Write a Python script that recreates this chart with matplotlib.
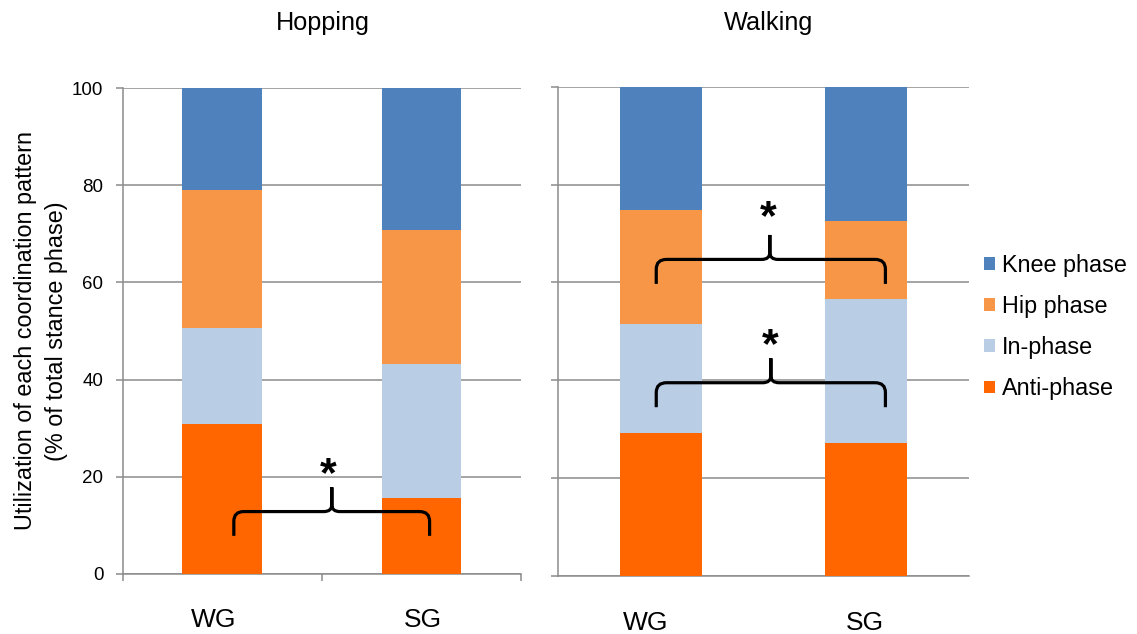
import matplotlib
matplotlib.use("Agg")
import matplotlib.pyplot as plt
from matplotlib.path import Path
from matplotlib.patches import PathPatch
from matplotlib import transforms

plt.rcParams['font.family'] = ['Liberation Sans', 'DejaVu Sans']

# Data (percent of total stance phase)
groups = ["WG", "SG"]
tasks = ["Hopping", "Walking"]
patterns = ["Anti-phase", "In-phase", "Hip phase", "Knee phase"]
colors = ["#FF6600", "#B9CDE5", "#F79646", "#4F81BD"]

hop_anti = [30.9, 15.5]
hop_in = [19.8, 27.7]
hop_hip = [28.3, 27.6]
hop_knee = [21.0, 29.2]

walk_anti = [29.2, 27.2]
walk_in = [22.4, 29.4]
walk_hip = [23.3, 15.9]
walk_knee = [25.1, 27.5]

# significance braces: (x_left, x_right, x_tip, y_line, star_x, star_y)
hop_braces = [(0.058, 1.041, 0.55, 12.8, 0.53, 20.3)]
walk_braces = [(-0.023, 1.093, 0.53, 64.7, 0.523, 73.2),
               (-0.023, 1.093, 0.535, 39.5, 0.532, 47.0)]

W, H = 1137, 634
GRID = "#8C8C8C"


def draw_brace(ax, xa, xb, xm, y, d=5.0, h=5.0, rx=0.05, ry=2.0):
    verts = [(xa, y - d), (xa, y - ry), (xa, y), (xa + rx, y),
             (xm - rx * 0.8, y), (xm, y), (xm, y + ry * 0.7), (xm, y + h),
             (xm, y + ry * 0.7), (xm, y), (xm + rx * 0.8, y),
             (xb - rx, y), (xb, y), (xb, y - ry), (xb, y - d)]
    codes = [Path.MOVETO, Path.LINETO, Path.CURVE3, Path.CURVE3,
             Path.LINETO, Path.CURVE3, Path.CURVE3, Path.LINETO,
             Path.LINETO, Path.CURVE3, Path.CURVE3,
             Path.LINETO, Path.CURVE3, Path.CURVE3, Path.LINETO]
    ax.add_patch(PathPatch(Path(verts, codes), fill=False, lw=2.3,
                           edgecolor="black", capstyle="butt", joinstyle="miter",
                           zorder=5, clip_on=False))


def stacked(ax, series, braces, yticklabels=True):
    x = range(len(groups))
    bottom = [0.0] * len(groups)
    bars = []
    for vals, c, name in zip(series, colors, patterns):
        b = ax.bar(x, vals, 0.4, bottom=bottom, color=c, label=name, zorder=3)
        bars.append(b)
        bottom = [bo + v for bo, v in zip(bottom, vals)]
    ax.set_xlim(-0.5, 1.5)
    ax.set_ylim(0, 100)
    ax.set_yticks(range(0, 101, 20))
    ax.yaxis.grid(True, color=GRID, lw=1.1, zorder=0)
    ax.set_axisbelow(True)
    for s in ["top", "right"]:
        ax.spines[s].set_visible(False)
    for s in ["left", "bottom"]:
        ax.spines[s].set_color(GRID)
        ax.spines[s].set_linewidth(1.1)
    ax.tick_params(axis="y", direction="out", length=5, width=1.1, color=GRID,
                   pad=9, labelsize=13.5, labelleft=yticklabels)
    ax.set_xticks(list(x))
    ax.set_xticklabels(groups)
    ax.tick_params(axis="x", which="major", length=0, pad=25, labelsize=19)
    for xa, xb, xm, y, sx, sy in braces:
        draw_brace(ax, xa, xb, xm, y)
        ax.text(sx, sy, "*", ha="center", va="center", fontsize=31,
                fontweight="bold", zorder=6)
    return bars


fig = plt.figure(figsize=(W / 100, H / 100), dpi=100)
ax1 = fig.add_axes([122.7 / W, (H - 573.7) / H, 398.3 / W, 485.4 / H])
ax2 = fig.add_axes([558.3 / W, (H - 576) / H, 410.7 / W, 489.3 / H])

bars = stacked(ax1, [hop_anti, hop_in, hop_hip, hop_knee], hop_braces)
stacked(ax2, [walk_anti, walk_in, walk_hip, walk_knee], walk_braces, yticklabels=False)

# category boundary ticks on the hopping panel only
ax1.set_xticks([-0.5, 0.5, 1.5], minor=True)
ax1.tick_params(axis="x", which="minor", direction="out", length=5, width=1.1, color=GRID)

# small label shifts as in the original
for ax, shifts in [(ax1, [-9, 1]), (ax2, [-15, -1])]:
    for lbl, dx in zip(ax.get_xticklabels(), shifts):
        lbl.set_transform(lbl.get_transform() +
                          transforms.ScaledTranslation(dx / 100, 0, fig.dpi_scale_trans))

fig.text(323 / W, 1 - 23 / H, tasks[0], ha="center", va="center", fontsize=18.2)
fig.text(769 / W, 1 - 23 / H, tasks[1], ha="center", va="center", fontsize=18.2)

fig.text(41 / W, 1 - 331 / H,
         "Utilization of each coordination pattern\n(% of total stance phase)",
         rotation=90, ha="center", va="center", fontsize=16.8,
         multialignment="center", linespacing=1.4)

fig.legend(bars[::-1], patterns[::-1], loc="center left",
           bbox_to_anchor=(984 / W, 1 - 327 / H), frameon=False,
           fontsize=16.8, handlelength=0.47, handleheight=0.47,
           handletextpad=0.3, labelspacing=0.78, borderaxespad=0, borderpad=0)

fig.savefig("out.png", dpi=100)
